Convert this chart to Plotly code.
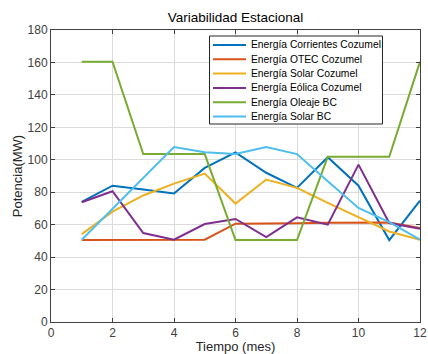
import plotly.graph_objects as go

months = [1, 2, 3, 4, 5, 6, 7, 8, 9, 10, 11, 12]
corrientes_cozumel = [74, 84, 81.7, 79.2, 95, 104.5, 92, 82.7, 101.6, 84, 50.5, 74.8]
otec_cozumel = [50.5, 50.5, 50.6, 50.7, 50.7, 60.6, 60.6, 60.8, 61.2, 61.3, 61.4, 58]
solar_cozumel = [54.2, 68, 78, 85.3, 91.5, 73, 87.8, 82.7, 73.4, 64.5, 55.8, 50.7]
eolica_cozumel = [73.8, 80.6, 54.8, 50.7, 60.4, 63.5, 52.4, 64.5, 60, 97, 61, 57.5]
oleaje_bc = [160.5, 160.5, 103.5, 103.5, 103.5, 50.5, 50.5, 50.5, 101.8, 101.8, 101.8, 160.5]
solar_bc = [50.7, 69.8, 88.8, 107.8, 104.7, 103.5, 107.8, 103.5, 86.8, 70.3, 61.6, 50.7]

names = ["Energía Corrientes Cozumel", "Energía OTEC Cozumel", "Energía Solar Cozumel",
         "Energía Eólica Cozumel", "Energía Oleaje BC", "Energía Solar BC"]
values = [corrientes_cozumel, otec_cozumel, solar_cozumel, eolica_cozumel, oleaje_bc, solar_bc]
colors = ["#0072BD", "#D95319", "#EDB120", "#7E2F8E", "#77AC30", "#4DBEEE"]

W, H = 428, 354
ML, MR, MT, MB = 51, 8, 30, 32
PW, PH = W - ML - MR, H - MT - MB


def px_x(p):
    return (p - ML) / PW


def px_y(p):
    return (H - MB - p) / PH


fig = go.Figure()
for name, vals, color in zip(names, values, colors):
    fig.add_trace(go.Scatter(x=months, y=vals, mode="lines", name=name,
                             line=dict(color=color, width=2), showlegend=False))

# compact legend box (MATLAB-style)
shapes = [dict(type="rect", xref="paper", yref="paper",
               x0=px_x(209.5), x1=px_x(382.5), y0=px_y(124), y1=px_y(36),
               fillcolor="white", line=dict(color="#262626", width=1), layer="above")]
annotations = []
for i, (name, color) in enumerate(zip(names, colors)):
    yc = 45 + 14.3 * i
    shapes.append(dict(type="line", xref="paper", yref="paper",
                       x0=px_x(213), x1=px_x(246), y0=px_y(yc), y1=px_y(yc),
                       line=dict(color=color, width=2), layer="above"))
    annotations.append(dict(xref="paper", yref="paper", x=px_x(249), y=px_y(yc),
                            xanchor="left", yanchor="middle", text=name, showarrow=False,
                            font=dict(size=10.3, color="#000000")))

axis_common = dict(
    showgrid=True, gridcolor="#dcdcdc", gridwidth=1,
    showline=True, linecolor="#404040", linewidth=1, mirror="ticks",
    ticks="inside", ticklen=4, tickcolor="#404040",
    zeroline=False, automargin=False,
    tickfont=dict(family="Liberation Sans, Arial, sans-serif", size=12, color="#404040"),
)

fig.update_layout(
    width=W, height=H,
    margin=dict(l=ML, r=MR, t=MT, b=MB),
    paper_bgcolor="white", plot_bgcolor="white",
    font=dict(family="Liberation Sans, Arial, sans-serif", size=12, color="#262626"),
    title=dict(text="Variabilidad Estacional", xref="paper", x=0.5, xanchor="center",
               y=0.951, yanchor="middle", font=dict(size=13.5, color="#000000")),
    xaxis=dict(range=[0, 12], dtick=2, tick0=0,
               title=dict(text="Tiempo (mes)", font=dict(size=13, color="#262626"), standoff=9),
               **axis_common),
    yaxis=dict(range=[0, 180], dtick=20, tick0=0,
               title=dict(text="Potencia(MW)", font=dict(size=13, color="#262626"), standoff=2),
               **axis_common),
    shapes=shapes,
    annotations=annotations,
    showlegend=False,
)

fig.write_html("out.html", config={"displayModeBar": False},
               post_script="document.body.style.margin='0';document.body.style.padding='0';")
